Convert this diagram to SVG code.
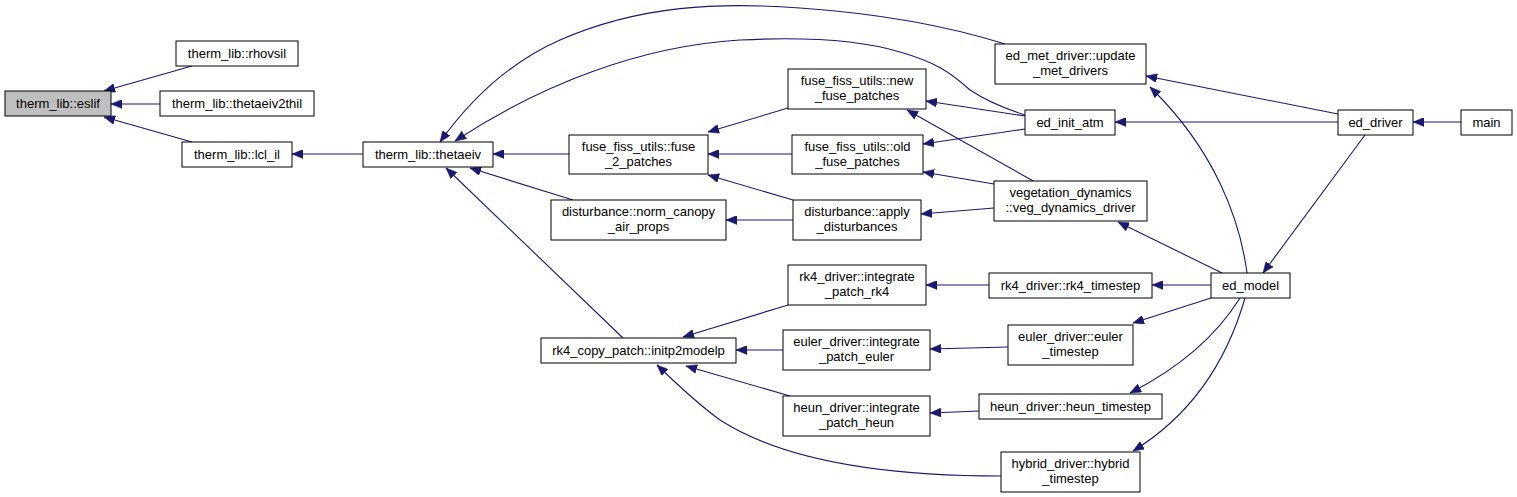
<svg xmlns="http://www.w3.org/2000/svg" width="1517" height="497" viewBox="0 0 1517 497">
<style>
.n rect{fill:#fff;stroke:#000;stroke-width:1}
.n.h rect{fill:#bfbfbf}
.n text{font-family:"Liberation Sans",Arial,sans-serif;font-size:13px;fill:#000;text-anchor:middle}
.e path{fill:none;stroke:#191970;stroke-width:1.1;marker-end:url(#a)}
</style>
<defs>
<marker id="a" markerUnits="userSpaceOnUse" markerWidth="12" markerHeight="9" refX="11" refY="4.5" orient="auto">
<path d="M0,0 L11,4.5 L0,9 z" fill="#191970" stroke="#191970" stroke-width="0.5"/>
</marker>
</defs>
<rect width="1517" height="497" fill="#fff"/>
<g id="edges" class="e">
<path d="M192,66 L104,91"/>
<path d="M160,104 L111,104"/>
<path d="M192,142 L104,117"/>
<path d="M363,154 L292,154"/>
<path d="M569,154 L493,154"/>
<path d="M573,200 L470,168"/>
<path d="M623,338 L446,168"/>
<path d="M1005,44 C970,33 900,15 800,8 C720,2 640,5 560,40 C510,62 470,100 440,142"/>
<path d="M1025,115 C1000,107 985,100 970,90 C950,72 935,62 900,52 C860,40 800,37 740,40 C640,46 540,85 455,141"/>
<path d="M788,108 L708,132"/>
<path d="M792,154 L708,154"/>
<path d="M793,200 L708,175"/>
<path d="M793,220 L726,220"/>
<path d="M1025,116 L926,101"/>
<path d="M1025,129 L923,144"/>
<path d="M1035,182 L907,110"/>
<path d="M994,184 L923,172"/>
<path d="M994,208 L921,214"/>
<path d="M1338,114 L1146,76"/>
<path d="M1247,273 C1240,220 1215,150 1150,87"/>
<path d="M1338,122 L1115,122"/>
<path d="M1365,135 L1263,273"/>
<path d="M1461,122 L1413,122"/>
<path d="M1222,273 L1118,222"/>
<path d="M1211,285 L1152,285"/>
<path d="M1211,298 L1133,323"/>
<path d="M1240,298 C1220,330 1185,365 1130,393"/>
<path d="M1245,298 C1230,350 1200,410 1133,451"/>
<path d="M989,285 L926,285"/>
<path d="M1008,347 L930,349"/>
<path d="M979,411 L930,413"/>
<path d="M1001,476 C900,476 790,465 720,420 C695,402 675,382 657,365"/>
<path d="M788,305 L683,337"/>
<path d="M783,350 L736,350"/>
<path d="M790,396 L686,366"/>
</g>
<g id="eslif" class="n h"><rect x="5" y="91" width="106" height="25"/><text x="58" y="107.5">therm_lib::eslif</text></g>
<g id="rhovsil" class="n"><rect x="176" y="41" width="122" height="25"/><text x="237" y="57.5">therm_lib::rhovsil</text></g>
<g id="thetaeiv2thil" class="n"><rect x="160" y="91" width="154" height="25"/><text x="237" y="107.5">therm_lib::thetaeiv2thil</text></g>
<g id="lcl_il" class="n"><rect x="182" y="142" width="110" height="25"/><text x="237" y="158.5">therm_lib::lcl_il</text></g>
<g id="thetaeiv" class="n"><rect x="363" y="142" width="130" height="25"/><text x="428" y="158.5">therm_lib::thetaeiv</text></g>
<g id="fuse_2_patches" class="n"><rect x="569" y="135" width="139" height="39"/><text x="638.5" y="151">fuse_fiss_utils::fuse</text><text x="638.5" y="166">_2_patches</text></g>
<g id="norm_canopy_air_props" class="n"><rect x="551" y="200" width="175" height="40"/><text x="638.5" y="216">disturbance::norm_canopy</text><text x="638.5" y="231">_air_props</text></g>
<g id="initp2modelp" class="n"><rect x="541" y="338" width="195" height="25"/><text x="638.5" y="354.5">rk4_copy_patch::initp2modelp</text></g>
<g id="integrate_patch_rk4" class="n"><rect x="788" y="265" width="138" height="40"/><text x="857" y="281">rk4_driver::integrate</text><text x="857" y="296">_patch_rk4</text></g>
<g id="integrate_patch_euler" class="n"><rect x="783" y="330" width="147" height="40"/><text x="856.5" y="346">euler_driver::integrate</text><text x="856.5" y="361">_patch_euler</text></g>
<g id="integrate_patch_heun" class="n"><rect x="783" y="396" width="147" height="40"/><text x="856.5" y="412">heun_driver::integrate</text><text x="856.5" y="427">_patch_heun</text></g>
<g id="new_fuse_patches" class="n"><rect x="788" y="69" width="138" height="40"/><text x="857" y="85">fuse_fiss_utils::new</text><text x="857" y="100">_fuse_patches</text></g>
<g id="old_fuse_patches" class="n"><rect x="792" y="135" width="131" height="39"/><text x="857.5" y="151">fuse_fiss_utils::old</text><text x="857.5" y="166">_fuse_patches</text></g>
<g id="apply_disturbances" class="n"><rect x="793" y="200" width="128" height="40"/><text x="857" y="216">disturbance::apply</text><text x="857" y="231">_disturbances</text></g>
<g id="update_met_drivers" class="n"><rect x="995" y="44" width="151" height="40"/><text x="1070.5" y="60">ed_met_driver::update</text><text x="1070.5" y="75">_met_drivers</text></g>
<g id="ed_init_atm" class="n"><rect x="1025" y="110" width="90" height="25"/><text x="1070" y="126.5">ed_init_atm</text></g>
<g id="veg_dynamics_driver" class="n"><rect x="994" y="181" width="153" height="40"/><text x="1070.5" y="197">vegetation_dynamics</text><text x="1070.5" y="212">::veg_dynamics_driver</text></g>
<g id="rk4_timestep" class="n"><rect x="989" y="273" width="163" height="25"/><text x="1070.5" y="289.5">rk4_driver::rk4_timestep</text></g>
<g id="euler_timestep" class="n"><rect x="1008" y="325" width="125" height="40"/><text x="1070.5" y="341">euler_driver::euler</text><text x="1070.5" y="356">_timestep</text></g>
<g id="heun_timestep" class="n"><rect x="979" y="394" width="183" height="25"/><text x="1070.5" y="410.5">heun_driver::heun_timestep</text></g>
<g id="hybrid_timestep" class="n"><rect x="1001" y="452" width="139" height="40"/><text x="1070.5" y="468">hybrid_driver::hybrid</text><text x="1070.5" y="483">_timestep</text></g>
<g id="ed_model" class="n"><rect x="1211" y="273" width="79" height="25"/><text x="1250.5" y="289.5">ed_model</text></g>
<g id="ed_driver" class="n"><rect x="1338" y="110" width="75" height="25"/><text x="1375.5" y="126.5">ed_driver</text></g>
<g id="main" class="n"><rect x="1461" y="110" width="51" height="25"/><text x="1486.5" y="126.5">main</text></g>
</svg>
